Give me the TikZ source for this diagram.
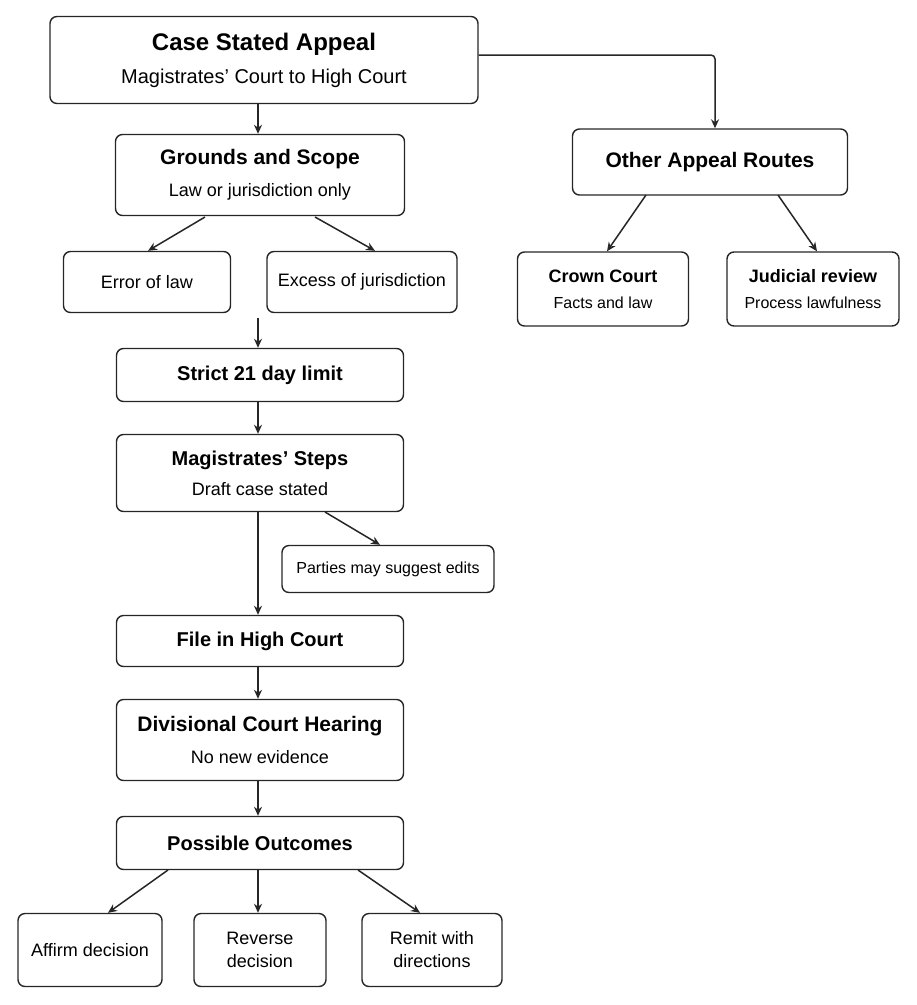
\documentclass[tikz,border=0pt]{standalone}
\usepackage{fontspec}
\setmainfont{Liberation Sans}
\usetikzlibrary{arrows.meta}
\begin{document}
\begin{tikzpicture}[x=1pt,y=-1pt,
 box/.style={draw=black!85,line width=1.4pt,rounded corners=7pt,align=center,inner sep=0pt},
 arr/.style={-{Stealth[length=9pt,width=8pt]},line width=1.5pt,black!85},
 s/.style={font=\fontsize{18}{23}\selectfont}]
\useasboundingbox (0,0) rectangle (917,1005);
\node[box,minimum width=428,minimum height=87,font=\fontsize{20}{33}\selectfont] (top) at (264,60) {{\fontsize{24}{30}\selectfont\bfseries Case Stated Appeal}\\Magistrates’ Court to High Court};
\node[box,minimum width=289,minimum height=81,font=\fontsize{18}{32}\selectfont] (gr) at (260,175) {{\fontsize{21}{26}\selectfont\bfseries Grounds and Scope}\\Law or jurisdiction only};
\node[box,s,minimum width=167,minimum height=61] (err) at (147,282) {Error of law};
\node[box,s,minimum width=190,minimum height=61] (exc) at (362,282) {Excess of jurisdiction};
\node[box,minimum width=287,minimum height=53,font=\fontsize{20}{24}\selectfont\bfseries] (str) at (260,375) {Strict 21 day limit};
\node[box,minimum width=287,minimum height=77,font=\fontsize{18}{30}\selectfont] (mag) at (260,473) {{\fontsize{20}{25}\selectfont\bfseries Magistrates’ Steps}\\Draft case stated};
\node[box,minimum width=212,minimum height=47,font=\fontsize{16}{20}\selectfont] (par) at (388,569) {Parties may suggest edits};
\node[box,minimum width=287,minimum height=51,font=\fontsize{20}{24}\selectfont\bfseries] (file) at (260,641) {File in High Court};
\node[box,minimum width=287,minimum height=81,font=\fontsize{18}{32}\selectfont] (div) at (260,740) {{\fontsize{21}{26}\selectfont\bfseries Divisional Court Hearing}\\No new evidence};
\node[box,minimum width=287,minimum height=53,font=\fontsize{20}{24}\selectfont\bfseries] (pos) at (260,843) {Possible Outcomes};
\node[box,s,minimum width=144,minimum height=73] (aff) at (90,950) {Affirm decision};
\node[box,s,minimum width=132,minimum height=73] (rev) at (260,950) {Reverse\\decision};
\node[box,s,minimum width=140,minimum height=73] (rem) at (432,950) {Remit with\\directions};
\node[box,minimum width=275,minimum height=66,font=\fontsize{21}{26}\selectfont\bfseries] (oth) at (710,162) {Other Appeal Routes};
\node[box,minimum width=171,minimum height=74,font=\fontsize{16}{26}\selectfont] (cc) at (603,289) {{\fontsize{18}{23}\selectfont\bfseries Crown Court}\\Facts and law};
\node[box,minimum width=172,minimum height=74,font=\fontsize{16}{26}\selectfont] (jr) at (813,289) {{\fontsize{18}{23}\selectfont\bfseries Judicial review}\\Process lawfulness};
\coordinate (gap) at (258,318);
\draw[arr] (top.south -| 258,0) -- (gr.north -| 258,0);
\draw[arr,rounded corners=4pt] (top.east |- 0,55) -- (715,55) -- (oth.north -| 715,0);
\draw[arr] (205,217) -- (err.north -| 148,0);
\draw[arr] (315,217) -- (exc.north -| 375,0);
\draw[arr] (gap) -- (str.north -| 258,0);
\draw[arr] (str.south -| 258,0) -- (mag.north -| 258,0);
\draw[arr] (mag.south -| 258,0) -- (file.north -| 258,0);
\draw[arr] (325,512) -- (par.north -| 380,0);
\draw[arr] (file.south -| 258,0) -- (div.north -| 258,0);
\draw[arr] (div.south -| 258,0) -- (pos.north -| 258,0);
\draw[arr] (168,870) -- (aff.north -| 108,0);
\draw[arr] (pos.south -| 258,0) -- (rev.north -| 258,0);
\draw[arr] (358,870) -- (rem.north -| 420,0);
\draw[arr] (646,195) -- (cc.north -| 607,0);
\draw[arr] (778,195) -- (jr.north -| 817,0);
\end{tikzpicture}
\end{document}
